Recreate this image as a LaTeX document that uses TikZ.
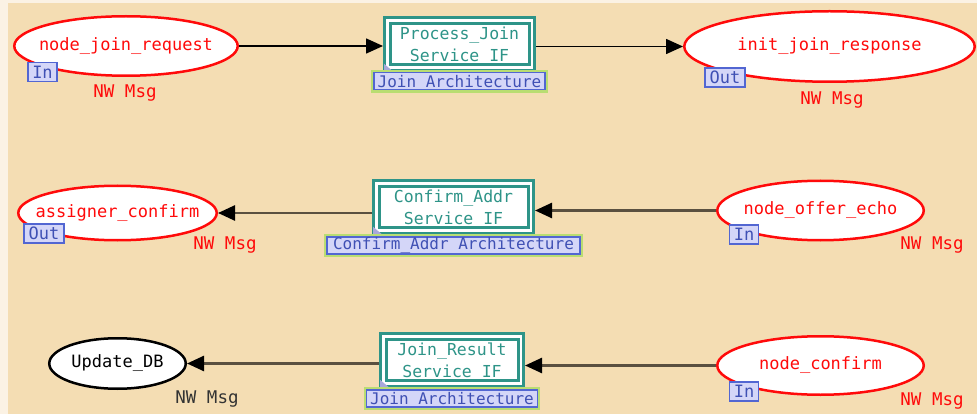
\documentclass[tikz,border=0pt]{standalone}
\usepackage{fontspec}
\setmonofont{DejaVu Sans Mono}
\usetikzlibrary{arrows.meta,positioning,shapes.geometric}
\definecolor{bg}{HTML}{F4DDB3}
\definecolor{edge}{HTML}{FBF2E4}
\definecolor{rd}{HTML}{FF0A0A}
\definecolor{tl}{HTML}{2E9488}
\definecolor{lav}{HTML}{D4D6F8}
\definecolor{pb}{HTML}{5266D2}
\definecolor{ptx}{HTML}{3F50B4}
\definecolor{glow}{HTML}{B9DD72}
\definecolor{fold}{HTML}{A9A8DA}
\definecolor{ln}{HTML}{5A5040}
\tikzset{
  msg/.style={
    ellipse, draw=rd, fill=white, line width=2.5pt, text=rd,
    font=\ttfamily\fontsize{17}{20}\selectfont,
    inner xsep=-25pt, inner ysep=0pt, outer sep=1.25pt
  },
  dbnode/.style={msg, draw=black, text=black},
  svc/.style={
    rectangle, draw=tl, double=white, double distance=2.5pt,
    line width=3pt, fill=white, text=tl, align=center,
    font=\ttfamily\fontsize{16.5}{22}\selectfont,
    inner sep=0pt, outer sep=4.25pt, minimum height=47pt
  },
  arch/.style={
    rectangle, draw=pb, fill=lav, line width=1.5pt, text=ptx,
    preaction={draw=glow, line width=6pt},
    font=\ttfamily\fontsize{16}{18}\selectfont,
    inner xsep=3.5pt, inner ysep=0pt, minimum height=17pt, outer sep=0pt
  },
  port/.style={
    rectangle, draw=pb, fill=lav, line width=1.5pt, text=ptx,
    font=\ttfamily\fontsize{17}{18}\selectfont,
    inner xsep=4.5pt, inner ysep=0pt, minimum height=19pt
  },
  typ/.style={text=rd, font=\ttfamily\fontsize{17.5}{20}\selectfont, inner sep=0pt},
  arr/.style={-{Triangle[length=17pt,width=15pt,color=black]}, line width=1.6pt, black},
  arrd/.style={arr, draw=ln, line width=2.5pt}
}

\begin{document}
\begin{tikzpicture}[x=1pt,y=-1pt]

\useasboundingbox (0,0) rectangle (977,414);
\fill[edge] (0,0) rectangle (977,414);
\fill[bg] (8,3) rectangle (977,414);

% row 1
\node[msg, minimum width=223.5pt, minimum height=59.5pt] (req) at (126,46) {node\_join\_request};
\node[svc, minimum width=144.5pt] (pj) at (459.5,44) {Process\_Join\\Service IF};
\node[msg, minimum width=290.5pt, minimum height=70.5pt] (init) at (829.5,46.5) {init\_join\_response};

% row 2
\node[msg, minimum width=198.5pt, minimum height=54.5pt] (asg) at (117.5,213) {assigner\_confirm};
\node[svc, minimum width=154.5pt] (ca) at (453.5,207) {Confirm\_Addr\\Service IF};
\node[msg, minimum width=206.5pt, minimum height=59.5pt] (offer) at (820.5,210.5) {node\_offer\_echo};

% row 3
\node[dbnode, minimum width=136.5pt, minimum height=50.5pt] (upd) at (117.5,363.5) {Update\_DB};
\node[svc, minimum width=137.5pt] (jr) at (452,360) {Join\_Result\\Service IF};
\node[msg, minimum width=206.5pt, minimum height=58.5pt] (conf) at (820.5,365.5) {node\_confirm};

\fill[fold] (pj.south west) ++(1,-8) -- ++(0,11) -- ++(13,0) -- cycle;
\fill[fold] (ca.south west) ++(1,-8) -- ++(0,11) -- ++(13,0) -- cycle;
\fill[fold] (jr.south west) ++(1,-8) -- ++(0,11) -- ++(13,0) -- cycle;

\node[arch, below=1pt of pj] (pjarch) {Join Architecture};
\node[arch, below=2pt of ca, minimum width=253pt] (caarch) {Confirm\_Addr Architecture};
\node[arch, below=2pt of jr] (jrarch) {Join Architecture};

\node[port] (reqin) at (42.5,72) {In};
\node[port] (initout) at (725,77.5) {Out};
\node[port] (asgout) at (44,233.5) {Out};
\node[port] (offerin) at (744,234.5) {In};
\node[port] (confin) at (744,391.5) {In};

\node[typ] (reqtyp) at (125,93) {NW Msg};
\node[typ] (inittyp) at (832,100) {NW Msg};
\node[typ] (asgtyp) at (225,245) {NW Msg};
\node[typ] (offertyp) at (932,245) {NW Msg};
\node[typ, text=black!80] (updtyp) at (207,399) {NW Msg};
\node[typ] (conftyp) at (932,401) {NW Msg};

\draw[arr] (req.east) -- (req.east -| pj.west);
\draw[arr] (pj.east |- init.west) -- (init.west);
\draw[arrd] (offer.west) -- (offer.west -| ca.east);
\draw[arrd] (ca.west |- asg.east) -- (asg.east);
\draw[arrd] (conf.west) -- (conf.west -| jr.east);
\draw[arrd] (jr.west |- upd.east) -- (upd.east);

\end{tikzpicture}
\end{document}
